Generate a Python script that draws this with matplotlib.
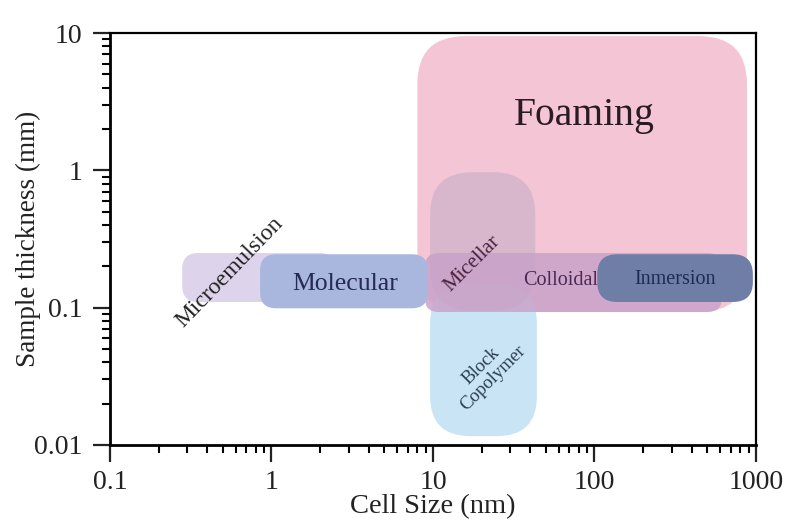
import matplotlib
matplotlib.use("Agg")
import matplotlib.pyplot as plt
from matplotlib.patches import FancyBboxPatch
from matplotlib.transforms import IdentityTransform

plt.rcParams['font.family'] = ['Liberation Serif', 'DejaVu Serif']

# regions: name, x range (nm), y range (mm)
regions = ["Foaming", "Block Copolymer", "Micellar", "Colloidal",
           "Microemulsion", "Molecular", "Inmersion"]
x_lo = [8.0, 9.6, 9.6, 8.9, 0.28, 0.85, 104]
x_hi = [880, 44, 43, 615, 2.5, 9.3, 957]
y_lo = [0.093, 0.0116, 0.095, 0.093, 0.11, 0.099, 0.11]
y_hi = [9.5, 0.15, 0.97, 0.25, 0.25, 0.245, 0.245]
colors = ["#f3c5d5", "#c9e4f4", "#bfaac6", "#c9a2c9",
          "#ddd3ea", "#a9b7df", "#6e7ea6"]
alphas = [1, 1, 0.5, 0.85, 1, 1, 1]
radius = [48, 40, 42, 14, 16, 16, 20]

# labels: text, x, y, rotation, size, colour
label_text = ["Foaming", "Molecular", "Micellar", "Colloidal", "Inmersion",
              "Microemulsion", "Block\nCopolymer"]
label_x = [87, 2.85, 17.4, 62, 315, 0.55, 21.5]
label_y = [2.53, 0.149, 0.208, 0.159, 0.16, 0.18, 0.034]
label_rot = [0, 0, 45, 0, 0, 46, 45]
label_size = [28.5, 18.5, 15, 14.5, 14.5, 17, 13.5]
label_col = ["#2a1a22", "#262a55", "#4a2340", "#4a2a55", "#1f2b55",
             "#222222", "#2c3e55"]
label_z = [10, 10, 10, 4.5, 10, 10, 10]

fig = plt.figure(figsize=(7.85, 5.25), dpi=100)
ax = fig.add_axes([0.1401, 0.1524, 0.963 - 0.1401, 0.937 - 0.1524])
ax.set_xscale('log')
ax.set_yscale('log')
ax.set_xlim(0.1, 1000)
ax.set_ylim(0.01, 10)

z = 2
for i in range(len(regions)):
    (x0, y0) = ax.transData.transform((x_lo[i], y_lo[i]))
    (x1, y1) = ax.transData.transform((x_hi[i], y_hi[i]))
    zz = z + i * 0.5
    if regions[i] == "Inmersion":
        zz = 5
    p = FancyBboxPatch((x0, y0), x1 - x0, y1 - y0,
                       boxstyle="round,pad=0,rounding_size=%g" % radius[i],
                       transform=IdentityTransform(), facecolor=colors[i],
                       edgecolor='none', alpha=alphas[i], zorder=zz)
    ax.add_patch(p)

for i in range(len(label_text)):
    ax.text(label_x[i], label_y[i], label_text[i], rotation=label_rot[i],
            fontsize=label_size[i], color=label_col[i], ha='center',
            va='center', zorder=label_z[i], rotation_mode='anchor',
            linespacing=1.0)

for s in ['left', 'bottom']:
    ax.spines[s].set_linewidth(2.0)
for s in ['top', 'right']:
    ax.spines[s].set_linewidth(1.6)

ax.set_xticks([0.1, 1, 10, 100, 1000])
ax.set_xticklabels(["0.1", "1", "10", "100", "1000"])
ax.set_yticks([0.01, 0.1, 1, 10])
ax.set_yticklabels(["0.01", "0.1", "1", "10"])
ax.tick_params(which='major', direction='out', length=12, width=1.6,
               labelsize=20, pad=6, colors='#222222')
ax.tick_params(axis='y', which='major', pad=8)
ax.tick_params(which='minor', direction='out', length=6, width=1.5)

ax.set_xlabel("Cell Size (nm)", fontsize=20.5, labelpad=-1, color='#222222')
ax.set_ylabel("Sample thickness (mm)", fontsize=19.5, labelpad=-5, color='#222222')

fig.savefig("out.png", dpi=100)
